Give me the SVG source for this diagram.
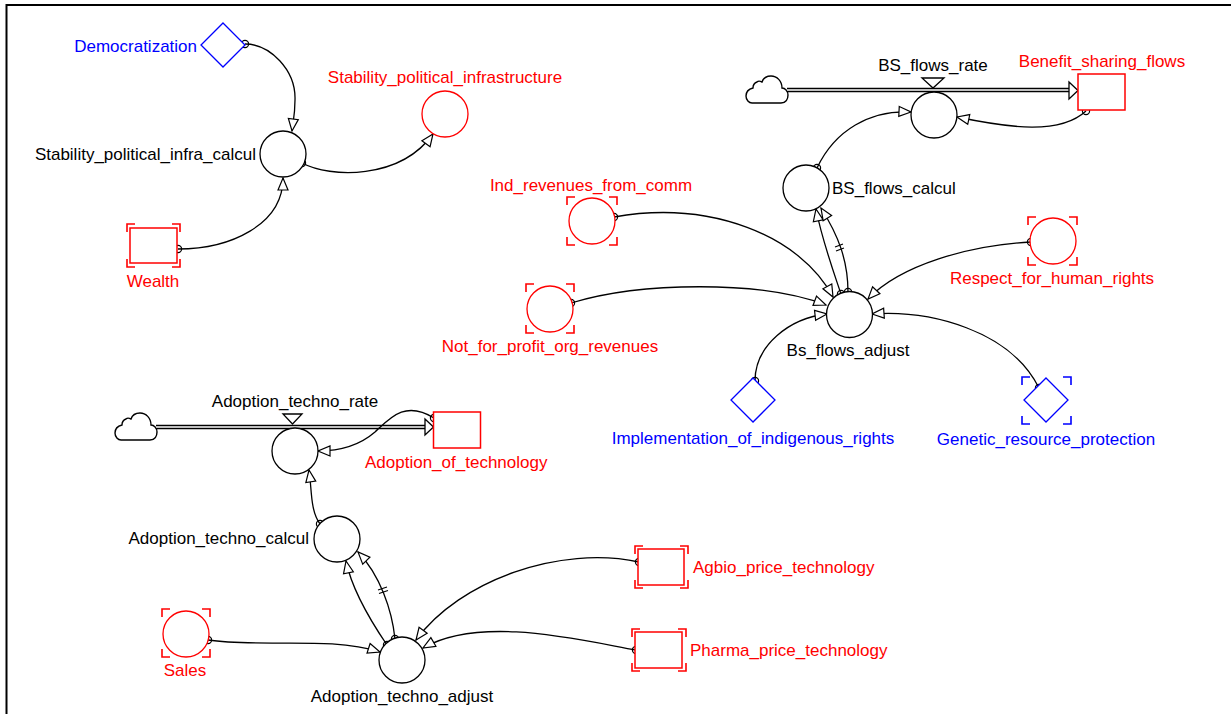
<svg xmlns="http://www.w3.org/2000/svg" width="1231" height="714" viewBox="0 0 1231 714">
<style>
text{font-family:"Liberation Sans",Arial,sans-serif;font-size:17px}
.k{fill:#000}
.r{fill:#ff0000}
.b{fill:#0000ff}
.aux{fill:#fff;stroke:#000;stroke-width:1.3}
.raux{fill:#fff;stroke:#ff0000;stroke-width:1.3}
.rstock{fill:#fff;stroke:#ff0000;stroke-width:1.5}
.bdia{fill:#fff;stroke:#0000ff;stroke-width:1.3}
.rbr{fill:none;stroke:#ff0000;stroke-width:1.6}
.bbr{fill:none;stroke:#0000ff;stroke-width:1.6}
.link{fill:none;stroke:#000;stroke-width:1.3;marker-end:url(#arr)}
.dot{fill:none;stroke:#000;stroke-width:1.2}
.pipeo{stroke:#000;stroke-width:4.5;fill:none}
.pipei{stroke:#fff;stroke-width:1.6;fill:none}
.tri{fill:#fff;stroke:#000;stroke-width:1.3}
.cloud{fill:#fff;stroke:#000;stroke-width:1.4}
</style>
<defs>
<marker id="arr" markerUnits="userSpaceOnUse" markerWidth="16" markerHeight="14" refX="12.5" refY="5.5" orient="auto" overflow="visible">
<path d="M0.5,0.5 L12.5,5.5 L0.5,10.5 Z" fill="#fff" stroke="#000" stroke-width="1.2"/>
</marker>
<path id="cloudshape" d="M6,30 H35 C40,30 42,26 42,22 C42,18 39,15 36,15 C36,8 31,3 25,3 C20,3 17,6 16,9 C14,8 12,8 11,9 C8,10 7,13 7,15 C3,16 0,19 0,23 C0,27 3,30 6,30 Z"/>
</defs>
<rect width="1231" height="714" fill="#fff"/>
<g id="frame">
<path d="M6.5,714 V5 H1231" fill="none" stroke="#000" stroke-width="2"/>
</g>

<g id="flows">
<use href="#cloudshape" class="cloud" x="746" y="73"/>
<line class="pipeo" x1="787" y1="90" x2="1071" y2="90"/>
<line class="pipei" x1="787" y1="90" x2="1071" y2="90"/>
<path class="tri" d="M1069,82 L1078,90.5 L1069,99 Z"/>
<use href="#cloudshape" class="cloud" x="115" y="410"/>
<line class="pipeo" x1="156" y1="427" x2="427" y2="427"/>
<line class="pipei" x1="156" y1="427" x2="427" y2="427"/>
<path class="tri" d="M425,419 L433.5,427 L425,435 Z"/>
</g>

<g id="connectors">
<path class="link" d="M245,44 C270,44 296,70 295,100 C295,115 293,122 292,131"/>
<path class="link" d="M178,249 C230,249 283,225 283,178"/>
<path class="link" d="M302,163 C330,178 400,180 433,134"/>
<path class="link" d="M817,168 C835,130 870,110 911,112"/>
<path class="link" d="M1086,111 C1060,135 1010,128 957,117"/>
<path class="link" d="M614,217 C710,200 800,235 833,297"/>
<path class="link" d="M571,303 C640,282 760,280 826,305"/>
<path class="link" d="M1031,242 C970,245 900,265 868,299"/>
<path class="link" d="M755,381 C755,345 790,318 827,314"/>
<path class="link" d="M1039,388 C1010,330 930,310 872,314"/>
<path class="link" d="M841,294 C833,270 822,240 816,209"/>
<path class="link" d="M848,292 C848,260 838,235 821,208"/>
<path d="M835,247 L843,244 M836,251 L844,248" stroke="#000" stroke-width="1.2" fill="none"/>
<path class="link" d="M434,418 C405,400 390,418 375,432 C360,445 340,451 318,451"/>
<path class="link" d="M320,524 C310,510 312,490 309,470"/>
<path class="link" d="M387,645 C370,620 352,590 346,561"/>
<path class="link" d="M395,639 C392,610 380,575 358,552"/>
<path d="M378,590 L387,587 M379,593.5 L388,590.5" stroke="#000" stroke-width="1.2" fill="none"/>
<path class="link" d="M208,640 C260,648 330,636 380,652"/>
<path class="link" d="M639,562 C560,545 460,580 416,640"/>
<path class="link" d="M636,650 C580,640 480,615 423,648"/>
<circle class="dot" cx="245" cy="44" r="3.6"/>
<circle class="dot" cx="178" cy="249" r="3.6"/>
<circle class="dot" cx="302" cy="163" r="3.6"/>
<circle class="dot" cx="817" cy="168" r="3.6"/>
<circle class="dot" cx="1086" cy="111" r="3.6"/>
<circle class="dot" cx="614" cy="217" r="3.6"/>
<circle class="dot" cx="571" cy="303" r="3.6"/>
<circle class="dot" cx="1031" cy="242" r="3.6"/>
<circle class="dot" cx="755" cy="381" r="3.6"/>
<circle class="dot" cx="1039" cy="388" r="3.6"/>
<circle class="dot" cx="841" cy="294" r="3.6"/>
<circle class="dot" cx="848" cy="292" r="3.6"/>
<circle class="dot" cx="434" cy="418" r="3.6"/>
<circle class="dot" cx="320" cy="524" r="3.6"/>
<circle class="dot" cx="387" cy="645" r="3.6"/>
<circle class="dot" cx="395" cy="639" r="3.6"/>
<circle class="dot" cx="208" cy="640" r="3.6"/>
<circle class="dot" cx="639" cy="562" r="3.6"/>
<circle class="dot" cx="636" cy="650" r="3.6"/>
</g>

<g id="Democratization">
<path class="bdia" d="M223,23 L245,45 L223,67 L201,45 Z"/>
<text class="b" x="197" y="52" text-anchor="end">Democratization</text>
</g>
<g id="Stability_political_infra_calcul">
<circle class="aux" cx="283" cy="154" r="23"/>
<text class="k" x="256" y="160" text-anchor="end">Stability_political_infra_calcul</text>
</g>
<g id="Stability_political_infrastructure">
<circle class="raux" cx="445" cy="114" r="23"/>
<text class="r" x="445" y="83" text-anchor="middle">Stability_political_infrastructure</text>
</g>
<g id="Wealth">
<rect class="rstock" x="130" y="228" width="47" height="35"/>
<path class="rbr" d="M127,232 V224 H135 M172,224 H180 V232 M180,259 V267 H172 M135,267 H127 V259"/>
<text class="r" x="153" y="287" text-anchor="middle">Wealth</text>
</g>

<g id="BS_flows_rate">
<path class="tri" d="M922,78 L944,78 L933,88 Z"/>
<circle class="aux" cx="934" cy="115" r="23"/>
<text class="k" x="933" y="71" text-anchor="middle">BS_flows_rate</text>
</g>
<g id="Benefit_sharing_flows">
<rect class="rstock" x="1078" y="74" width="47" height="36"/>
<text class="r" x="1102" y="67" text-anchor="middle">Benefit_sharing_flows</text>
</g>
<g id="BS_flows_calcul">
<circle class="aux" cx="806" cy="188" r="23"/>
<text class="k" x="832" y="194">BS_flows_calcul</text>
</g>
<g id="Bs_flows_adjust">
<circle class="aux" cx="849.5" cy="314.5" r="23"/>
<text class="k" x="848" y="356" text-anchor="middle">Bs_flows_adjust</text>
</g>
<g id="Ind_revenues_from_comm">
<circle class="raux" cx="592" cy="221" r="23"/>
<path class="rbr" d="M567,205 V197 H575 M609,197 H617 V205 M617,237 V245 H609 M575,245 H567 V237"/>
<text class="r" x="591" y="190.5" text-anchor="middle">Ind_revenues_from_comm</text>
</g>
<g id="Not_for_profit_org_revenues">
<circle class="raux" cx="550" cy="309" r="23"/>
<path class="rbr" d="M526,292 V284 H534 M566,284 H574 V292 M574,325 V333 H566 M534,333 H526 V325"/>
<text class="r" x="550" y="352" text-anchor="middle">Not_for_profit_org_revenues</text>
</g>
<g id="Respect_for_human_rights">
<circle class="raux" cx="1053" cy="241" r="23"/>
<path class="rbr" d="M1028,225 V217 H1036 M1069,217 H1077 V225 M1077,257 V265 H1069 M1036,265 H1028 V257"/>
<text class="r" x="1052" y="284" text-anchor="middle">Respect_for_human_rights</text>
</g>
<g id="Implementation_of_indigenous_rights">
<path class="bdia" d="M753,378 L775,400 L753,422 L731,400 Z"/>
<text class="b" x="753" y="444" text-anchor="middle">Implementation_of_indigenous_rights</text>
</g>
<g id="Genetic_resource_protection">
<path class="bdia" d="M1046,378 L1068,400 L1046,422 L1024,400 Z"/>
<path class="bbr" d="M1022,385 V377 H1030 M1063,377 H1071 V385 M1071,416 V424 H1063 M1030,424 H1022 V416"/>
<text class="b" x="1046" y="444.5" text-anchor="middle">Genetic_resource_protection</text>
</g>

<g id="Adoption_techno_rate">
<path class="tri" d="M283,414 L302,414 L292.5,424 Z"/>
<circle class="aux" cx="295" cy="451" r="23"/>
<text class="k" x="295" y="407" text-anchor="middle">Adoption_techno_rate</text>
</g>
<g id="Adoption_of_technology">
<rect class="rstock" x="433.5" y="412" width="47" height="36"/>
<text class="r" x="365" y="468">Adoption_of_technology</text>
</g>
<g id="Adoption_techno_calcul">
<circle class="aux" cx="337" cy="539" r="23"/>
<text class="k" x="309" y="544" text-anchor="end">Adoption_techno_calcul</text>
</g>
<g id="Adoption_techno_adjust">
<circle class="aux" cx="402" cy="660" r="23"/>
<text class="k" x="402" y="701.5" text-anchor="middle">Adoption_techno_adjust</text>
</g>
<g id="Sales">
<circle class="raux" cx="186" cy="634" r="23"/>
<path class="rbr" d="M162,617 V609 H170 M202,609 H210 V617 M210,649 V657 H202 M170,657 H162 V649"/>
<text class="r" x="185" y="676" text-anchor="middle">Sales</text>
</g>
<g id="Agbio_price_technology">
<rect class="rstock" x="638" y="549" width="46" height="36"/>
<path class="rbr" d="M635,554 V546 H643 M680,546 H688 V554 M688,580 V588 H680 M643,588 H635 V580"/>
<text class="r" x="693" y="573">Agbio_price_technology</text>
</g>
<g id="Pharma_price_technology">
<rect class="rstock" x="635" y="632" width="47" height="36"/>
<path class="rbr" d="M632,637 V629 H640 M678,629 H686 V637 M686,663 V671 H678 M640,671 H632 V663"/>
<text class="r" x="690" y="656">Pharma_price_technology</text>
</g>
</svg>
